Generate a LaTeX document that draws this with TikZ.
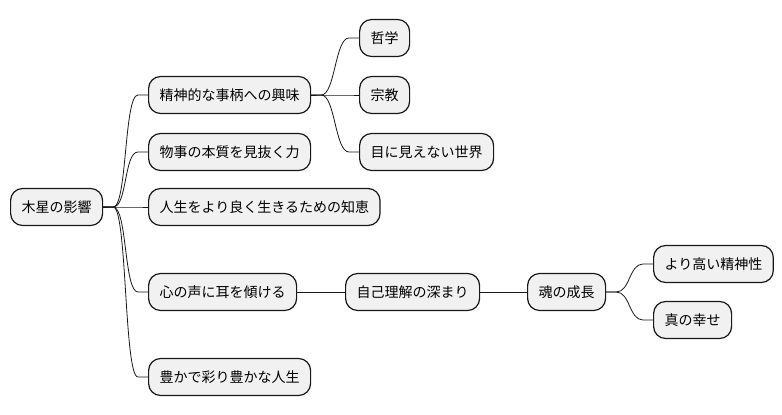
\documentclass[tikz,border=0pt]{standalone}
\usepackage{fontspec}
\setmainfont{Noto Sans CJK JP}
\usetikzlibrary{calc}
\definecolor{boxfill}{HTML}{F1F1F1}
\definecolor{boxline}{HTML}{181818}
\tikzset{
  mmnode/.style={draw=boxline, fill=boxfill, line width=1.2pt, rounded corners=12pt,
    minimum height=37pt, inner xsep=11pt, inner ysep=0pt, anchor=west,
    font=\fontsize{14}{16}\selectfont, text=black},
  mmedge/.style={to path={-- ++(10,0) .. controls +(14,0) and ($(\tikztotarget)+(-24,0)$) .. ($(\tikztotarget)+(-10,0)$) -- (\tikztotarget)}},
  mmline/.style={draw=boxline, line width=0.8pt}
}
\begin{document}
\begin{tikzpicture}[x=1pt,y=-1pt]
\useasboundingbox (0,0) rectangle (782,415);
\node[mmnode] (root) at (10,207) {木星の影響};
\node[mmnode] (a) at (148,95) {精神的な事柄への興味};
\node[mmnode] (b) at (148,152) {物事の本質を見抜く力};
\node[mmnode] (c) at (148,207) {人生をより良く生きるための知恵};
\node[mmnode] (d) at (148,292) {心の声に耳を傾ける};
\node[mmnode] (e) at (148,377) {豊かで彩り豊かな人生};
\node[mmnode] (a1) at (359,38) {哲学};
\node[mmnode] (a2) at (359,95) {宗教};
\node[mmnode] (a3) at (359,152) {目に見えない世界};
\node[mmnode] (d1) at (345,292) {自己理解の深まり};
\node[mmnode] (d2) at (527,292) {魂の成長};
\node[mmnode] (d3) at (653,264) {より高い精神性};
\node[mmnode] (d4) at (653,320) {真の幸せ};
\foreach \p/\c in {root/a,root/b,root/c,root/d,root/e,a/a1,a/a2,a/a3,d2/d3,d2/d4}
  \draw[mmline] (\p.east) to[mmedge] (\c.west);
\draw[mmline] (d.east) -- (d1.west);
\draw[mmline] (d1.east) -- (d2.west);
\end{tikzpicture}
\end{document}
